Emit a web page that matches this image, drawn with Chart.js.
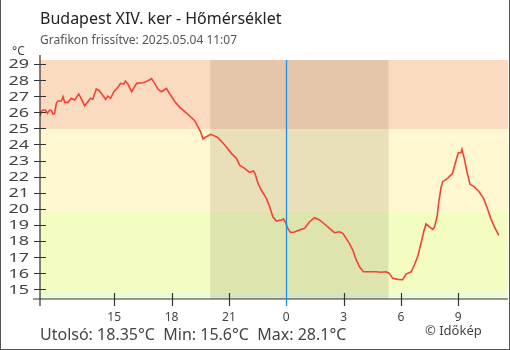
<!DOCTYPE html>
<html>
<head>
<meta charset="utf-8">
<script src="https://cdn.jsdelivr.net/npm/chart.js@4/dist/chart.umd.min.js"></script>
<style>
    body { margin: 0; background: #fff; }
    #wrap { position: relative; width: 510px; height: 350px; font-family: 'Noto Sans', sans-serif; color: #444; }
    #frame { position: absolute; left: 0; top: 0; right: 0; bottom: 0; border: 1px solid #555; border-top: none; pointer-events: none; }
    .txt { position: absolute; white-space: pre; }
    #title { left: 40px; top: 10px; font-size: 16px; line-height: 16px; color: #222; }
    #subtitle { left: 40px; top: 34px; font-size: 12px; line-height: 12px; color: #555; }
    #unit { left: 12px; top: 45px; font-size: 12px; line-height: 12px; }
    #stats { left: 40px; top: 326px; font-size: 16px; line-height: 16px; }
    #credit { left: 425px; top: 324px; font-size: 13px; line-height: 13px; }
</style>
</head>
<body>
<div id="wrap">
    <canvas id="tempChart" width="510" height="350"></canvas>
    <div class="txt" id="title">Budapest XIV. ker - Hőmérséklet</div>
    <div class="txt" id="subtitle">Grafikon frissítve: 2025.05.04 11:07</div>
    <div class="txt" id="unit">°C</div>
    <div class="txt" id="stats">Utolsó: 18.35°C  Min: 15.6°C  Max: 28.1°C</div>
    <div class="txt" id="credit">© Időkép</div>
    <div id="frame"></div>
</div>
<script>
// hours since midnight of 05.03 (values past 24 belong to 05.04)
const hours = [
    11.12, 11.18, 11.27, 11.39, 11.50, 11.62, 11.71, 11.80, 11.88, 11.97,
    12.06, 12.23, 12.32, 12.41, 12.58, 12.75, 12.93, 13.14, 13.27, 13.45,
    13.62, 13.76, 13.88, 14.06, 14.18, 14.32, 14.55, 14.67, 14.81, 14.98,
    15.19, 15.33, 15.50, 15.59, 15.71, 15.91, 16.17, 16.51, 16.77, 16.95,
    17.12, 17.29, 17.47, 17.73, 17.91, 18.17, 18.43, 18.69, 18.95, 19.21,
    19.38, 19.52, 19.64, 19.82, 20.05, 20.22, 20.43, 20.78, 21.13, 21.39,
    21.56, 21.82, 22.08, 22.29, 22.38, 22.52, 22.69, 22.96, 23.13, 23.30,
    23.48, 23.74, 23.86, 23.96, 24.08, 24.22, 24.43, 24.69, 24.96, 25.22,
    25.48, 25.74, 26.00, 26.26, 26.52, 26.78, 26.96, 27.13, 27.30, 27.48,
    27.65, 27.83, 28.04, 28.35, 28.70, 28.96, 29.22, 29.39, 29.57, 29.83,
    30.09, 30.27, 30.53, 30.70, 30.87, 31.05, 31.19, 31.31, 31.48, 31.66,
    31.75, 31.89, 31.97, 32.09, 32.18, 32.44, 32.70, 32.84, 33.00, 33.14,
    33.19, 33.31, 33.45, 33.62, 33.83, 34.09, 34.32, 34.49, 34.70, 34.88,
    35.12
];
const temps = [
    25.75, 26.05, 26.14, 26.14, 25.94, 26.14, 26.11, 25.89, 25.92, 26.56,
    26.70, 26.70, 26.97, 26.62, 26.62, 26.87, 26.76, 27.14, 26.87, 26.41,
    26.66, 26.87, 26.81, 27.45, 27.39, 27.18, 26.81, 27.01, 26.87, 27.28,
    27.55, 27.80, 27.76, 27.94, 27.76, 27.28, 27.80, 27.84, 27.96, 28.10,
    27.80, 27.43, 27.28, 27.48, 27.14, 26.66, 26.31, 26.04, 25.77, 25.48,
    25.10, 24.79, 24.34, 24.48, 24.63, 24.55, 24.42, 23.97, 23.45, 23.14,
    22.72, 22.52, 22.27, 22.35, 22.15, 21.59, 21.17, 20.65, 20.13, 19.51,
    19.24, 19.31, 19.37, 19.16, 18.79, 18.54, 18.56, 18.68, 18.79, 19.20,
    19.45, 19.31, 19.06, 18.79, 18.52, 18.58, 18.48, 18.17, 17.86, 17.44,
    16.86, 16.40, 16.09, 16.09, 16.09, 16.06, 16.09, 15.99, 15.68, 15.62,
    15.60, 15.95, 16.09, 16.51, 17.02, 17.86, 18.58, 19.06, 18.89, 18.73,
    18.85, 19.51, 20.34, 21.28, 21.69, 21.90, 22.21, 22.83, 23.49, 23.49,
    23.70, 23.14, 22.31, 21.52, 21.38, 21.06, 20.65, 20.13, 19.41, 18.89,
    18.35
];

const xTicks = [15, 18, 21, 24, 27, 30, 33];
const xTickLabels = ["15", "18", "21", "0", "3", "6", "9"];
const yTicks = [15, 16, 17, 18, 19, 20, 21, 22, 23, 24, 25, 26, 27, 28, 29];

// sunset / sunrise and midnight (hours)
const nightStart = 20.02;
const nightEnd = 29.35;
const midnight = 24;

// background temperature bands
const bands = [
    { from: 24.95, to: 40, color: "#fbdbbf" },
    { from: 19.82, to: 24.95, color: "#fff7cf" },
    { from: 14.88, to: 19.82, color: "#f3fcc1" },
    { from: 0, to: 14.88, color: "#ecfcd6" }
];

const backdrop = {
    id: "backdrop",
    beforeDatasetsDraw(chart) {
        const { ctx, chartArea: a, scales: { x, y } } = chart;
        ctx.save();
        bands.forEach(b => {
            let top = Math.max(a.top, y.getPixelForValue(b.to));
            let bot = Math.min(a.bottom, y.getPixelForValue(b.from));
            ctx.fillStyle = b.color;
            ctx.fillRect(a.left, top, a.right - a.left, bot - top);
        });
        // night shading
        let n1 = x.getPixelForValue(nightStart), n2 = x.getPixelForValue(nightEnd);
        ctx.fillStyle = "rgba(40,20,0,0.1)";
        ctx.fillRect(n1, a.top, n2 - n1, a.bottom - a.top);

        // y labels: the original draws them horizontally stretched
        ctx.fillStyle = "#444";
        ctx.font = "12px 'Noto Sans', sans-serif";
        ctx.textAlign = "right";
        ctx.textBaseline = "middle";
        y.ticks.forEach(t => {
            ctx.save();
            ctx.translate(a.left - 11, y.getPixelForValue(t.value) + 1);
            ctx.scale(1.5, 1);
            ctx.fillText(String(t.value), 0, 0);
            ctx.restore();
        });
        ctx.restore();
    },
    afterDatasetsDraw(chart) {
        const { ctx, chartArea: a, scales: { x, y } } = chart;
        ctx.save();
        ctx.strokeStyle = "#333";
        ctx.lineWidth = 1.2;
        ctx.beginPath();
        // axis lines
        ctx.moveTo(a.left, a.top - 5); ctx.lineTo(a.left, a.bottom + 7);
        ctx.moveTo(a.left - 7, a.bottom); ctx.lineTo(a.right, a.bottom);
        // crossing tick marks
        yTicks.forEach(v => {
            let py = Math.round(y.getPixelForValue(v)) + 0.5;
            ctx.moveTo(a.left - 6, py); ctx.lineTo(a.left + 6, py);
        });
        xTicks.forEach(v => {
            if (v === midnight) return;
            let px = Math.round(x.getPixelForValue(v)) + 0.5;
            ctx.moveTo(px, a.bottom - 6); ctx.lineTo(px, a.bottom + 7);
        });
        ctx.stroke();
        // midnight marker
        let mx = Math.round(x.getPixelForValue(midnight)) + 0.5;
        ctx.strokeStyle = "#1e8fe6";
        ctx.lineWidth = 1.3;
        ctx.beginPath();
        ctx.moveTo(mx, a.top); ctx.lineTo(mx, a.bottom + 7);
        ctx.stroke();
        ctx.restore();
    }
};

Chart.defaults.font.family = "'Noto Sans', sans-serif";
Chart.defaults.color = "#444";

var ctx = document.getElementById("tempChart").getContext("2d");
var tempChart = new Chart(ctx, {
    type: "line",
    data: {
        datasets: [{
            data: hours.map((h, i) => ({ x: h, y: temps[i] })),
            borderColor: "#f44336",
            borderWidth: 1.6,
            pointRadius: 0,
            tension: 0
        }]
    },
    options: {
        responsive: false,
        animation: false,
        devicePixelRatio: 1,
        layout: { padding: { top: 60, right: 2, left: 0, bottom: 0 } },
        plugins: { legend: { display: false }, tooltip: { enabled: false } },
        scales: {
            x: {
                type: "linear",
                min: 11.117,
                max: 35.6,
                afterBuildTicks: s => { s.ticks = xTicks.map(v => ({ value: v })); },
                afterFit: s => { s.height = 51; },
                grid: { display: false, drawTicks: false },
                border: { display: false },
                ticks: {
                    padding: 11,
                    maxRotation: 0,
                    autoSkip: false,
                    font: { size: 12 },
                    callback: v => xTickLabels[xTicks.indexOf(v)]
                }
            },
            y: {
                min: 14.4,
                max: 29.25,
                afterBuildTicks: s => { s.ticks = yTicks.map(v => ({ value: v })); },
                afterFit: s => { s.width = 40; },
                grid: { display: false, drawTicks: false },
                border: { display: false },
                ticks: { display: false }
            }
        }
    },
    plugins: [backdrop]
});
</script>
</body>
</html>
